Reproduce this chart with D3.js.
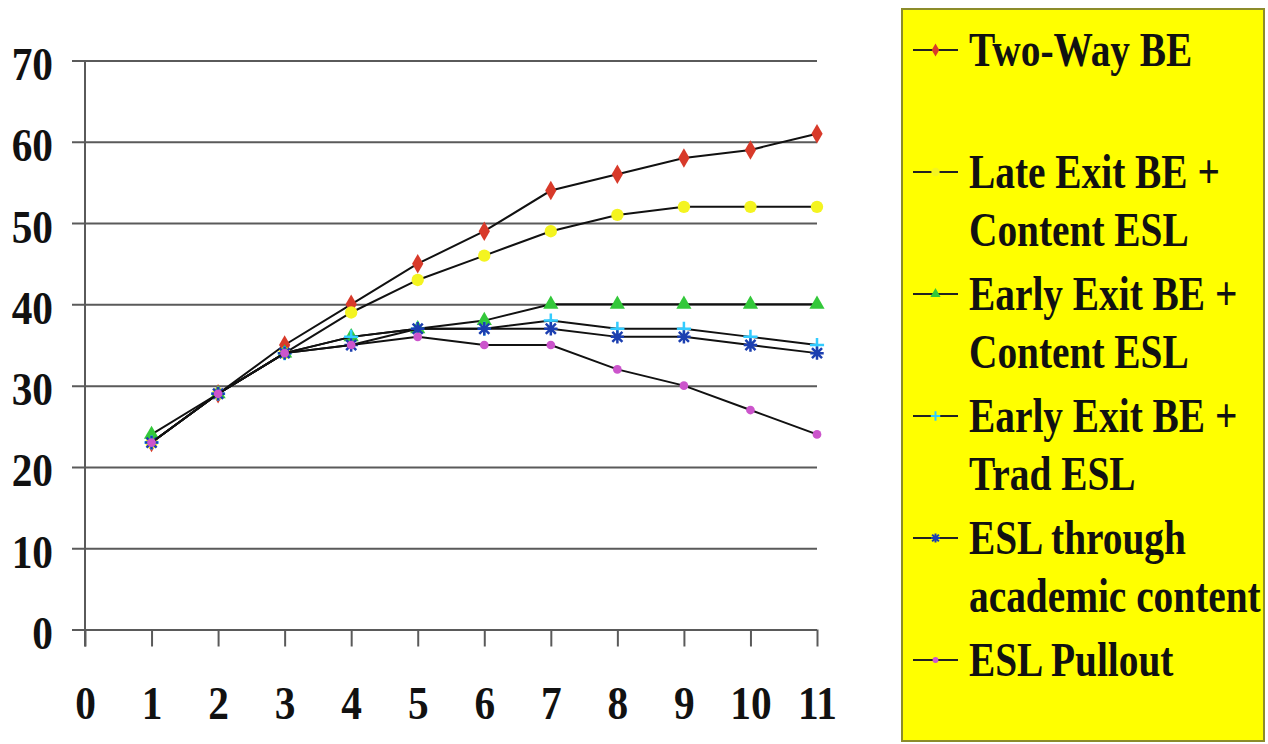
<!DOCTYPE html>
<html>
<head>
<meta charset="utf-8">
<script src="https://cdn.jsdelivr.net/npm/d3@7"></script>
<style>
  body { margin: 0; background: #fff; }
  svg { display: block; }
</style>
</head>
<body>
<div class="d3"></div>
<script>
const grades = [1, 2, 3, 4, 5, 6, 7, 8, 9, 10, 11];
const xTicks = [0, 1, 2, 3, 4, 5, 6, 7, 8, 9, 10, 11];
const yTicks = [0, 10, 20, 30, 40, 50, 60, 70];

const twoWay       = [23, 29, 35, 40, 45, 49, 54, 56, 58, 59, 61];
const lateExit     = [23, 29, 34, 39, 43, 46, 49, 51, 52, 52, 52];
const earlyContent = [24, 29, 34, 36, 37, 38, 40, 40, 40, 40, 40];
const earlyTrad    = [23, 29, 34, 36, 37, 37, 38, 37, 37, 36, 35];
const eslAcademic  = [23, 29, 34, 35, 37, 37, 37, 36, 36, 35, 34];
const eslPullout   = [23, 29, 34, 35, 36, 35, 35, 32, 30, 27, 24];

const seriesNames = [
  ["Two-Way BE"],
  ["Late Exit BE +", "Content ESL"],
  ["Early Exit BE +", "Content ESL"],
  ["Early Exit BE +", "Trad ESL"],
  ["ESL through", "academic content"],
  ["ESL Pullout"]
];

function main() {
  const width = 1268, height = 744;
  const svg = d3.select(".d3").append("svg")
    .attr("width", width).attr("height", height);

  const x = d3.scaleLinear().domain([0, 11]).range([85, 817]);
  const y = d3.scaleLinear().domain([0, 70]).range([629.5, 60.5]);
  const font = "'Liberation Serif', 'Times New Roman', serif";

  // custom stroke symbols
  const plus = {
    draw(ctx, size) {
      const r = Math.sqrt(size) / 2;
      ctx.moveTo(-r, 0); ctx.lineTo(r, 0);
      ctx.moveTo(0, -r); ctx.lineTo(0, r);
    }
  };
  const star = {
    draw(ctx, size) {
      const r = Math.sqrt(size) / 2;
      ctx.moveTo(-r, 0); ctx.lineTo(r, 0);
      ctx.moveTo(-r * 0.75, -r * 0.75); ctx.lineTo(r * 0.75, r * 0.75);
      ctx.moveTo(-r * 0.75, r * 0.75); ctx.lineTo(r * 0.75, -r * 0.75);
      ctx.moveTo(0, -r); ctx.lineTo(0, r);
    }
  };

  const series = [
    {vals: twoWay,       sym: d3.symbolDiamond,  size: 110, color: "#d83a2a", stroke: false},
    {vals: lateExit,     sym: d3.symbolCircle,   size: 120, color: "#f4f420", stroke: false},
    {vals: earlyContent, sym: d3.symbolTriangle, size: 100, color: "#33c83a", stroke: false},
    {vals: earlyTrad,    sym: plus,              size: 200, color: "#33ccff", stroke: true},
    {vals: eslAcademic,  sym: star,              size: 180, color: "#1c3fb0", stroke: true},
    {vals: eslPullout,   sym: d3.symbolCircle,   size: 60,  color: "#cc55cc", stroke: false}
  ];

  // horizontal gridlines + y labels
  const yAxis = d3.axisLeft(y).tickValues(yTicks)
    .tickSize(-(817 - 72)).tickPadding(19);
  const gy = svg.append("g").attr("transform", "translate(72,0)").call(yAxis);
  gy.select(".domain").remove();
  gy.selectAll("line").attr("stroke", "#5a5a5a").attr("stroke-width", 2);
  gy.selectAll("text")
    .attr("x", null).attr("dy", null)
    .attr("transform", "translate(-19,19) scale(0.88,1)")
    .attr("font-family", font).attr("font-weight", "bold")
    .attr("font-size", 47).attr("fill", "#111");

  // x ticks + labels
  const xAxis = d3.axisBottom(x).tickValues(xTicks).tickSize(17);
  const gx = svg.append("g").attr("transform", "translate(0," + y(0) + ")").call(xAxis);
  gx.select(".domain").remove();
  gx.selectAll("line").attr("stroke", "#5a5a5a").attr("stroke-width", 2);
  gx.selectAll("text")
    .attr("y", null).attr("dy", null)
    .attr("transform", "translate(0,89) scale(0.88,1)")
    .attr("font-family", font).attr("font-weight", "bold")
    .attr("font-size", 47).attr("fill", "#111");

  // vertical axis line
  svg.append("line")
    .attr("x1", x(0)).attr("x2", x(0))
    .attr("y1", y(70)).attr("y2", y(0) + 17)
    .attr("stroke", "#5a5a5a").attr("stroke-width", 2);

  const line = d3.line()
    .x((d, i) => x(grades[i]))
    .y(d => y(d));

  series.forEach(s => {
    svg.append("path")
      .datum(s.vals)
      .attr("d", line)
      .attr("fill", "none")
      .attr("stroke", "#111")
      .attr("stroke-width", 2);
    const sym = d3.symbol().type(s.sym).size(s.size);
    svg.append("g").selectAll("path")
      .data(s.vals)
      .join("path")
      .attr("transform", (d, i) => "translate(" + x(grades[i]) + "," + y(d) + ")")
      .attr("d", sym)
      .attr("fill", s.stroke ? "none" : s.color)
      .attr("stroke", s.stroke ? s.color : "none")
      .attr("stroke-width", s.stroke ? 2.5 : 0);
  });

  // legend
  const lg = svg.append("g");
  lg.append("rect")
    .attr("x", 902).attr("y", 9)
    .attr("width", 362).attr("height", 732)
    .attr("fill", "#ffff00")
    .attr("stroke", "#8c8c2a").attr("stroke-width", 2);

  const entryY = d3.scaleLinear().domain([0, 5]).range([66, 676]);
  series.forEach((s, i) => {
    const base = entryY(i);
    const cy = base - 16;
    lg.append("line")
      .attr("x1", 913).attr("x2", 958)
      .attr("y1", cy).attr("y2", cy)
      .attr("stroke", "#222").attr("stroke-width", 2);
    lg.append("path")
      .attr("transform", "translate(935.5," + cy + ")")
      .attr("d", d3.symbol().type(s.sym).size(s.size * 0.45))
      .attr("fill", s.stroke ? "none" : s.color)
      .attr("stroke", s.stroke ? s.color : "none")
      .attr("stroke-width", s.stroke ? 2 : 0);
    seriesNames[i].forEach((t, j) => {
      lg.append("text")
        .attr("transform", "translate(969," + (base + j * 58) + ") scale(0.82,1)")
        .attr("font-family", font).attr("font-weight", "bold")
        .attr("font-size", 48).attr("fill", "#111")
        .text(t);
    });
  });
}
main();
</script>
</body>
</html>
